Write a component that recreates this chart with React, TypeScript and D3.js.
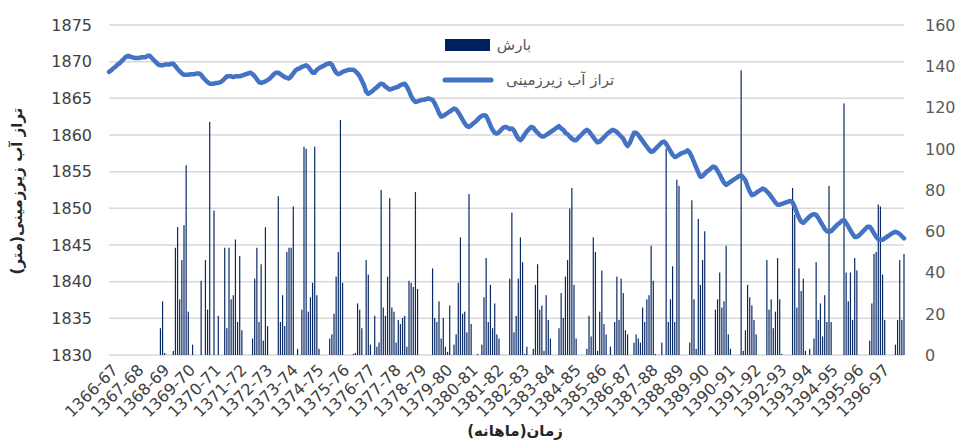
import React from 'react';
import * as d3 from 'd3';

// سال‌های آبی (برچسب محور افقی)
const yearLabels = d3.range(1366, 1397).map(y => `${y}-${String((y + 1) % 100).padStart(2, '0')}`);

// بارش ماهانه (میلی‌متر) - هر سطر یک سال
const precip = [
  0, 0, 0, 0, 0, 0, 0, 0, 0, 0, 0, 0,
  0, 0, 0, 0, 0, 0, 0, 0, 0, 0, 0, 0,
  13, 26, 1, 0, 0, 0, 2, 52, 62, 27, 46, 63,
  92, 21, 0, 5, 0, 0, 0, 36, 0, 46, 22, 113,
  0, 70, 0, 19, 0, 0, 52, 13, 52, 27, 29, 56,
  16, 48, 12, 0, 0, 0, 0, 8, 37, 52, 16, 44,
  7, 62, 14, 0, 0, 0, 0, 77, 16, 29, 14, 50,
  52, 52, 72, 0, 3, 0, 22, 101, 100, 21, 28, 35,
  101, 29, 3, 0, 0, 0, 0, 8, 10, 20, 38, 50,
  114, 35, 0, 0, 0, 0, 0.5, 1, 25, 22, 13, 0,
  46, 39, 5, 0, 19, 4, 6, 80, 23, 19, 38, 76,
  23, 21, 6, 17, 15, 18, 19, 4, 36, 35, 33, 79,
  32, 0, 0, 0, 0, 0, 0, 42, 18, 16, 26, 8,
  18, 4, 1.5, 24, 0, 5, 10, 35, 57, 20, 21, 11,
  78, 15, 0, 0, 0.5, 0, 5, 28, 47, 16, 34, 13,
  25, 10, 8, 0, 0, 0, 0, 37, 69, 11, 19, 37,
  57, 45, 0.5, 4, 0, 0, 3, 34, 44, 22, 24, 2,
  29, 17, 8, 0, 0, 0, 13, 30, 18, 38, 46, 71,
  81, 34, 8, 0, 0, 0, 0, 3, 19, 9, 57, 50,
  2, 21, 41, 15, 10, 0, 4, 0, 16, 38, 17, 37,
  30, 12, 10, 0, 0, 6, 10, 8, 6, 23, 16, 27,
  29, 53, 36, 0.5, 0, 0, 6, 0, 100, 16, 27, 43,
  16, 85, 82, 0, 0, 0, 0, 6, 75, 27, 3, 66,
  34, 46, 60, 0, 0, 0, 0, 22, 27, 40, 23, 26,
  53, 10, 3, 0, 0, 0, 0, 138, 2, 12, 34, 28,
  24, 17, 10, 0, 0, 0, 0, 46, 22, 27, 13, 21,
  47, 27, 0.5, 0, 0, 0, 0, 81, 68, 23, 42, 31,
  37, 2, 0, 3, 0, 8, 45, 17, 25, 9, 29, 16,
  82, 16, 0, 0, 0, 0, 0, 122, 40, 26, 40, 17,
  47, 41, 0, 0, 0, 0, 0, 7, 25, 49, 50, 73,
  72, 39, 17, 0, 0, 0, 0, 5, 17, 46, 17, 49,
];

// تراز آب زیرزمینی ماهانه (متر)
const level = [
  1868.6, 1868.8, 1869.1, 1869.3, 1869.6, 1869.8, 1870.1, 1870.4, 1870.7, 1870.8, 1870.7, 1870.6,
  1870.5, 1870.5, 1870.5, 1870.6, 1870.6, 1870.6, 1870.8, 1870.8, 1870.5, 1870.2, 1869.9, 1869.6,
  1869.5, 1869.5, 1869.6, 1869.6, 1869.6, 1869.7, 1869.7, 1869.4, 1869.0, 1868.7, 1868.4, 1868.2,
  1868.2, 1868.2, 1868.3, 1868.3, 1868.3, 1868.4, 1868.4, 1868.2, 1867.8, 1867.5, 1867.2, 1867.0,
  1867.0, 1867.0, 1867.1, 1867.1, 1867.2, 1867.4, 1867.7, 1868.0, 1868.0, 1868.0, 1867.9, 1868.0,
  1868.0, 1868.0, 1868.1, 1868.2, 1868.3, 1868.4, 1868.5, 1868.3, 1868.0, 1867.6, 1867.2, 1867.1,
  1867.2, 1867.3, 1867.5, 1867.7, 1868.0, 1868.3, 1868.5, 1868.5, 1868.3, 1868.1, 1867.9, 1867.8,
  1867.7, 1868.0, 1868.4, 1868.8, 1869.0, 1869.1, 1869.3, 1869.4, 1869.5, 1869.3, 1868.9, 1868.5,
  1868.5, 1868.9, 1869.1, 1869.3, 1869.4, 1869.6, 1869.7, 1869.8, 1869.6, 1869.0, 1868.5, 1868.3,
  1868.4, 1868.6, 1868.7, 1868.8, 1868.9, 1868.9, 1868.9, 1868.7, 1868.4, 1868.0, 1867.4, 1866.8,
  1865.9, 1865.6, 1865.8, 1866.0, 1866.3, 1866.5, 1866.8, 1867.0, 1866.9, 1866.6, 1866.4, 1866.2,
  1866.3, 1866.4, 1866.5, 1866.6, 1866.8, 1866.9, 1867.0, 1866.6, 1866.0, 1865.3, 1864.8, 1864.5,
  1864.6, 1864.7, 1864.8, 1864.8, 1864.9, 1865.0, 1864.9, 1864.8, 1864.3, 1863.7, 1863.0, 1862.5,
  1862.6, 1862.8, 1863.0, 1863.2, 1863.4, 1863.6, 1863.5, 1863.1, 1862.6, 1862.1, 1861.6, 1861.2,
  1861.1, 1861.3, 1861.6, 1861.8, 1862.1, 1862.4, 1862.6, 1862.7, 1862.6, 1862.0, 1861.3, 1860.7,
  1860.3, 1860.2, 1860.4, 1860.7, 1861.0, 1861.1, 1861.0, 1860.8, 1860.9, 1860.6, 1860.0, 1859.5,
  1859.3, 1859.6, 1860.1, 1860.5, 1860.8, 1861.1, 1861.0, 1860.6, 1860.3, 1860.0, 1859.8, 1859.8,
  1860.0, 1860.2, 1860.4, 1860.6, 1860.8, 1861.0, 1861.2, 1860.9, 1860.7, 1860.3, 1860.1, 1859.8,
  1859.5, 1859.3, 1859.3, 1859.6, 1859.9, 1860.2, 1860.5, 1860.7, 1860.5, 1860.1, 1859.7, 1859.3,
  1859.0, 1859.1, 1859.4, 1859.7, 1860.0, 1860.3, 1860.5, 1860.7, 1860.6, 1860.4, 1860.1, 1859.8,
  1859.5, 1858.9, 1858.5, 1858.9, 1859.6, 1860.3, 1860.3, 1860.0, 1859.6, 1859.2, 1858.8, 1858.4,
  1858.0, 1857.7, 1857.8, 1858.1, 1858.4, 1858.7, 1859.0, 1859.1, 1858.8, 1858.3, 1857.8, 1857.3,
  1857.0, 1857.1, 1857.3, 1857.5, 1857.6, 1857.7, 1857.9, 1857.6, 1857.0, 1856.3, 1855.6, 1854.9,
  1854.3, 1854.4, 1854.7, 1855.0, 1855.2, 1855.5, 1855.7, 1855.6, 1855.1, 1854.6, 1854.0, 1853.5,
  1853.2, 1853.4, 1853.6, 1853.8, 1854.0, 1854.2, 1854.4, 1854.5, 1854.2, 1853.8, 1853.0, 1852.3,
  1851.8, 1851.9, 1852.1, 1852.3, 1852.5, 1852.7, 1852.6, 1852.3, 1852.0, 1851.6, 1851.2, 1850.8,
  1850.5, 1850.5, 1850.6, 1850.7, 1850.8, 1850.9, 1851.0, 1850.8, 1850.2, 1849.4, 1848.7, 1848.2,
  1848.0, 1848.3, 1848.6, 1848.9, 1849.1, 1849.2, 1849.1, 1848.7, 1848.2, 1847.7, 1847.2, 1846.9,
  1846.8, 1846.9, 1847.2, 1847.5, 1847.8, 1848.0, 1848.3, 1848.4, 1848.0, 1847.5, 1847.0, 1846.5,
  1846.1, 1846.1, 1846.3, 1846.6, 1846.9, 1847.2, 1847.5, 1847.5, 1847.1, 1846.6, 1846.1, 1845.8,
  1845.7, 1845.7, 1845.9, 1846.1, 1846.3, 1846.5, 1846.7, 1846.8, 1846.7, 1846.5, 1846.2, 1845.9,
];

const leftTicks = d3.range(1830, 1876, 5);
const rightTicks = d3.range(0, 161, 20);

const W = 959, H = 441;
const plot = { left: 109, right: 904, top: 25, bottom: 355 };
const FONT = "'DejaVu Sans', sans-serif";

export default function App() {
  const months = d3.range(level.length);
  const x = d3.scalePoint<number>().domain(months).range([plot.left, plot.right]);
  const yL = d3.scaleLinear().domain([1830, 1875]).range([plot.bottom, plot.top]);
  const yR = d3.scaleLinear().domain([0, 160]).range([plot.bottom, plot.top]);

  const line = d3.line<number>()
    .x((_, i) => x(i)!)
    .y(d => yL(d));

  return (
    <svg width={W} height={H} style={{ position: 'absolute', left: 0, top: 0, background: '#fff' }}>
      {/* خطوط شبکه */}
      {leftTicks.map(t => (
        <line key={'g' + t} x1={plot.left} x2={plot.right} y1={yL(t)} y2={yL(t)} stroke="#d9d9d9" strokeWidth={1.5} />
      ))}

      {/* محور چپ */}
      {leftTicks.map(t => (
        <text key={'l' + t} x={92} y={yL(t)} dy="0.36em" textAnchor="end" fontFamily={FONT} fontSize={16} fill="#404040">{t}</text>
      ))}
      {/* محور راست */}
      {rightTicks.map(t => (
        <text key={'r' + t} x={925} y={yR(t)} dy="0.36em" textAnchor="start" fontFamily={FONT} fontSize={16} fill="#595959">{t}</text>
      ))}

      {/* بارش */}
      <g>
        {precip.map((d, i) => d > 0 ? (
          <rect key={'b' + i} x={x(i)! - 0.6} width={1.2} y={yR(d)} height={yR(0) - yR(d)} fill="#0a2a66" />
        ) : null)}
      </g>

      {/* تراز آب */}
      <path d={line(level) || ''} fill="none" stroke="#4472c4" strokeWidth={4.5} strokeLinejoin="round" strokeLinecap="round" />

      {/* برچسب‌های محور افقی */}
      {yearLabels.map((lab, k) => (
        <text key={'x' + k} transform={`translate(${x(k * 12)! + 6},${plot.bottom + 12}) rotate(-45)`}
          textAnchor="end" dy="0.36em" fontFamily={FONT} fontSize={16} fill="#404040">{lab}</text>
      ))}

      {/* عنوان محورها */}
      <text transform={`translate(17,191) rotate(-90)`} textAnchor="middle" dy="0.36em"
        direction="rtl" fontFamily={FONT} fontSize={15} fontWeight="bold" fill="#262626">تراز آب زیرزمینی(متر)</text>
      <text x={515} y={436} textAnchor="middle" direction="rtl"
        fontFamily={FONT} fontSize={15} fontWeight="bold" fill="#262626">زمان(ماهانه)</text>

      {/* راهنما */}
      <rect x={445} y={39} width={45} height={12} fill="#002060" />
      <text x={514} y={45} dy="0.36em" textAnchor="middle" direction="rtl" fontFamily={FONT} fontSize={15} fill="#595959">بارش</text>
      <line x1={445} x2={491} y1={80} y2={80} stroke="#4472c4" strokeWidth={5} strokeLinecap="round" />
      <text x={560} y={80} dy="0.36em" textAnchor="middle" direction="rtl" fontFamily={FONT} fontSize={15} fill="#595959">تراز آب زیرزمینی</text>
    </svg>
  );
}
